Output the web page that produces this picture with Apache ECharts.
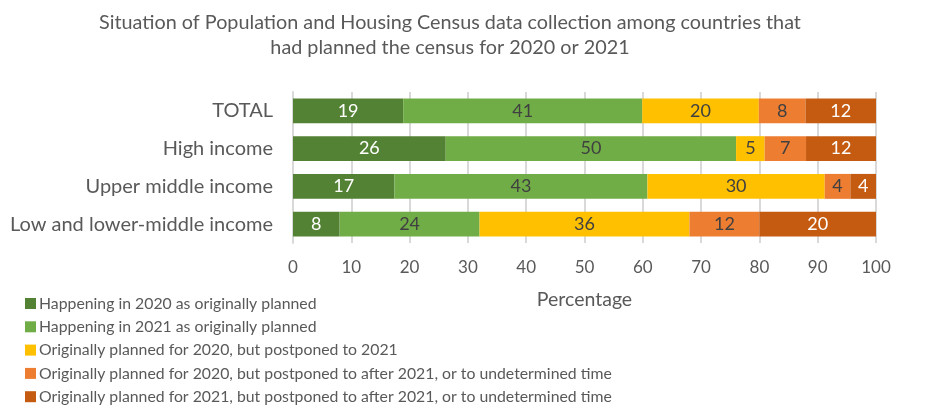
<!DOCTYPE html>
<html>
<head>
<meta charset="utf-8">
<script src="https://cdn.jsdelivr.net/npm/echarts@6/dist/echarts.min.js"></script>
<style>html,body{margin:0;padding:0;background:#fff;}#c{width:926px;height:408px;}</style>
</head>
<body>
<div id="c"></div>
<script>
const categories = ["TOTAL", "High income", "Upper middle income", "Low and lower-middle income"];
const seriesNames = [
  "Happening in 2020 as originally planned",
  "Happening in 2021 as originally planned",
  "Originally planned for 2020, but postponed to 2021",
  "Originally planned for 2020, but postponed to after 2021, or to undetermined time",
  "Originally planned for 2021, but postponed to after 2021, or to undetermined time"
];
const happening2020 = [18.9, 26.2, 17.4, 8.0];
const happening2021 = [41.0, 49.8, 43.4, 24.0];
const postponedTo2021 = [20.0, 4.9, 30.4, 36.0];
const postponed2020After = [8.0, 7.1, 4.4, 12.0];
const postponed2021After = [12.1, 12.0, 4.4, 20.0];
const xTicks = [0, 10, 20, 30, 40, 50, 60, 70, 80, 90, 100];

const colors = ["#548235", "#70AD47", "#FFC000", "#ED7D31", "#C55A11"];
const labelColors = ["#ffffff", "#404040", "#404040", "#404040", "#ffffff"];
const seriesData = [happening2020, happening2021, postponedTo2021, postponed2020After, postponed2021After];
const FONT = "Lato";

const chart = echarts.init(document.getElementById('c'), null, {renderer: 'canvas'});
chart.setOption({
  animation: false,
  textStyle: {fontFamily: FONT},
  title: {
    text: "Situation of Population and Housing Census data collection among countries that\nhad planned the census for 2020 or 2021",
    left: 445, top: 5, textAlign: 'center',
    textStyle: {fontFamily: FONT, fontSize: 19.8, fontWeight: 'normal', color: '#595959', lineHeight: 25}
  },
  legend: {
    orient: 'vertical', left: 25, top: 295, padding: 0,
    itemWidth: 11, itemHeight: 11, itemGap: 6.3,
    icon: 'rect',
    data: seriesNames,
    textStyle: {fontFamily: FONT, fontSize: 15.8, color: '#595959', lineHeight: 17, padding: [0, 0, 0, -2]}
  },
  grid: {left: 293, right: 50, top: 92, height: 151, containLabel: false},
  xAxis: {
    type: 'value', min: 0, max: 100, interval: 10,
    name: 'Percentage', nameLocation: 'middle', nameGap: 47,
    nameTextStyle: {fontFamily: FONT, fontSize: 19.5, color: '#595959'},
    axisLine: {show: false}, axisTick: {show: false},
    axisLabel: {fontFamily: FONT, fontSize: 17, color: '#595959', margin: 16,
      formatter: v => xTicks.includes(v) ? String(v) : ''},
    splitLine: {show: true, lineStyle: {color: '#d9d9d9', width: 2}}
  },
  yAxis: {
    type: 'category', data: categories, inverse: true,
    axisLine: {show: true, lineStyle: {color: '#d9d9d9', width: 2}},
    axisTick: {show: false},
    axisLabel: {fontFamily: FONT, fontSize: 20, color: '#595959', margin: 20}
  },
  series: seriesData.map((d, i) => ({
    name: seriesNames[i], type: 'bar', stack: 'total', data: d,
    barWidth: '66%',
    itemStyle: {color: colors[i]},
    label: {show: true, position: 'inside', fontFamily: FONT, fontSize: 18, color: labelColors[i],
      formatter: p => String(Math.round(p.value))}
  }))
});
</script>
</body>
</html>
